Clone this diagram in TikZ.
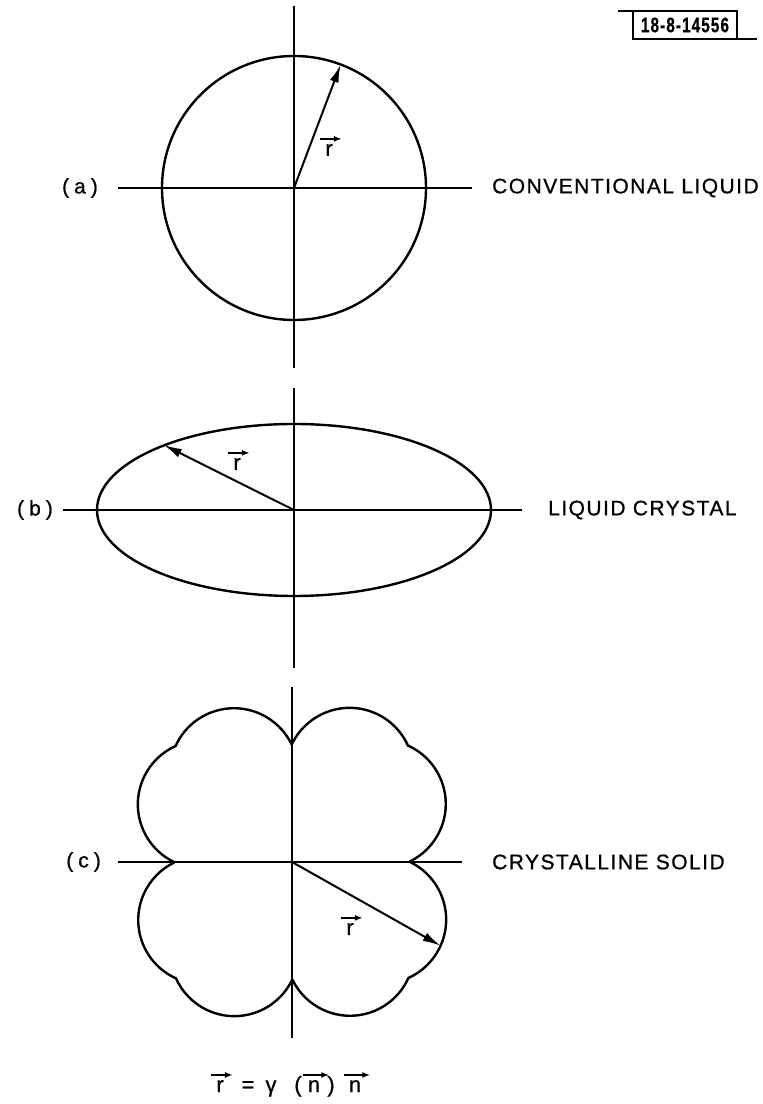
\documentclass[tikz,border=0pt]{standalone}
\usepackage{fontspec}
\setmainfont{Liberation Sans}[LetterSpace=7, FakeBold=0.8]
\usetikzlibrary{arrows.meta, positioning, calc}
\tikzstyle{axisline} = [line width=1.2pt]
\tikzstyle{curve} = [line width=2.4pt]
\tikzstyle{rvec} = [-{Latex[length=18pt,width=9pt]}, line width=2pt]
\tikzstyle{vecmark} = [-{Latex[length=8pt,width=6pt]}, line width=1.8pt]
\tikzstyle{partname} = [font=\fontsize{21}{25}\selectfont, inner sep=0pt, anchor=east]
\tikzstyle{phasename} = [font=\fontsize{21}{25}\selectfont, inner sep=0pt, anchor=west]
\tikzstyle{letter} = [font=\fontsize{22}{26}\selectfont, inner sep=0pt]
\tikzstyle{tagtext} = [font=\fontsize{21}{25}\selectfont\bfseries, xscale=0.73, inner sep=0pt]
% arrow over a letter node
\newcommand{\overvec}[1]{\draw[vecmark] ($(#1.north west)+(-5,5)$) -- ($(#1.north east)+(9,5)$);}

\begin{document}
\begin{tikzpicture}[x=1pt, y=1pt]
  \useasboundingbox (0,0) rectangle (763,1104);

  % report number
  \node[tagtext] (tag) at (685,1079) {18-8-14556};
  \draw[line width=1.5pt] (618,1093) -- (737,1093) -- (737,1065);
  \draw[line width=1.5pt] (633,1093) -- (633,1065) -- (757,1065);

  % (a) conventional liquid
  \coordinate (ctrA) at (294,916);
  \coordinate (tipA) at ($(ctrA)+(69.3:132)$);
  \draw[axisline] (118,916) -- (472,916);
  \draw[axisline] (294,1098) -- (294,736);
  \draw[curve] (ctrA) circle[radius=132];
  \draw[rvec] (ctrA) -- (tipA);
  \node[letter] (rA) at (329,954) {r};
  \overvec{rA}
  \node[partname] (partA) at (98,916) {(\hspace{5pt}a\hspace{5pt})};
  \node[phasename] (phaseA) at (492,916) {CONVENTIONAL LIQUID};

  % (b) liquid crystal
  \coordinate (ctrB) at (294,594);
  \coordinate (tipB) at (163.8,659);
  \draw[axisline] (63,594) -- (522,594);
  \draw[axisline] (294,716) -- (294,436);
  \draw[curve] (ctrB) ellipse[x radius=197, y radius=86];
  \draw[rvec] (ctrB) -- (tipB);
  \node[letter] (rB) at (237,640) {r};
  \overvec{rB}
  \node[partname] (partB) at (53,594) {(\hspace{5pt}b\hspace{5pt})};
  \node[phasename] (phaseB) at (548,594) {LIQUID CRYSTAL};

  % (c) crystalline solid
  \coordinate (ctrC) at (292,242);
  \coordinate (tipC) at ($(ctrC)+(-29.4:170.6)$);
  \draw[axisline] (118,242) -- (462,242);
  \draw[axisline] (292,417) -- (292,66);
  \begin{scope}[shift={(ctrC)}]
    \foreach \rot in {0,90,180,270}
      \draw[curve, rotate=\rot] (0,118) arc[start angle=154.2, end angle=24.2, radius=64]
        arc[start angle=65.8, end angle=-64.2, radius=64];
  \end{scope}
  \draw[rvec] (ctrC) -- (tipC);
  \node[letter] (rC) at (350,175) {r};
  \overvec{rC}
  \node[partname] (partC) at (101,242) {(\hspace{5pt}c\hspace{5pt})};
  \node[phasename] (phaseC) at (492,242) {CRYSTALLINE SOLID};

  % defining relation
  \node[letter, anchor=base] (eqR) at (220,12) {r};
  \node[letter, anchor=base] (eqEq) at (248,12) {=};
  \node[letter, anchor=base] (eqG) at (271,12) {γ};
  \node[letter, anchor=base] (eqOpen) at (298,12) {(};
  \node[letter, anchor=base] (eqN) at (314,12) {n};
  \node[letter, anchor=base] (eqClose) at (331,12) {)};
  \node[letter, anchor=base] (eqNN) at (355,12) {n};
  \overvec{eqR}
  \overvec{eqN}
  \overvec{eqNN}
\end{tikzpicture}
\end{document}
